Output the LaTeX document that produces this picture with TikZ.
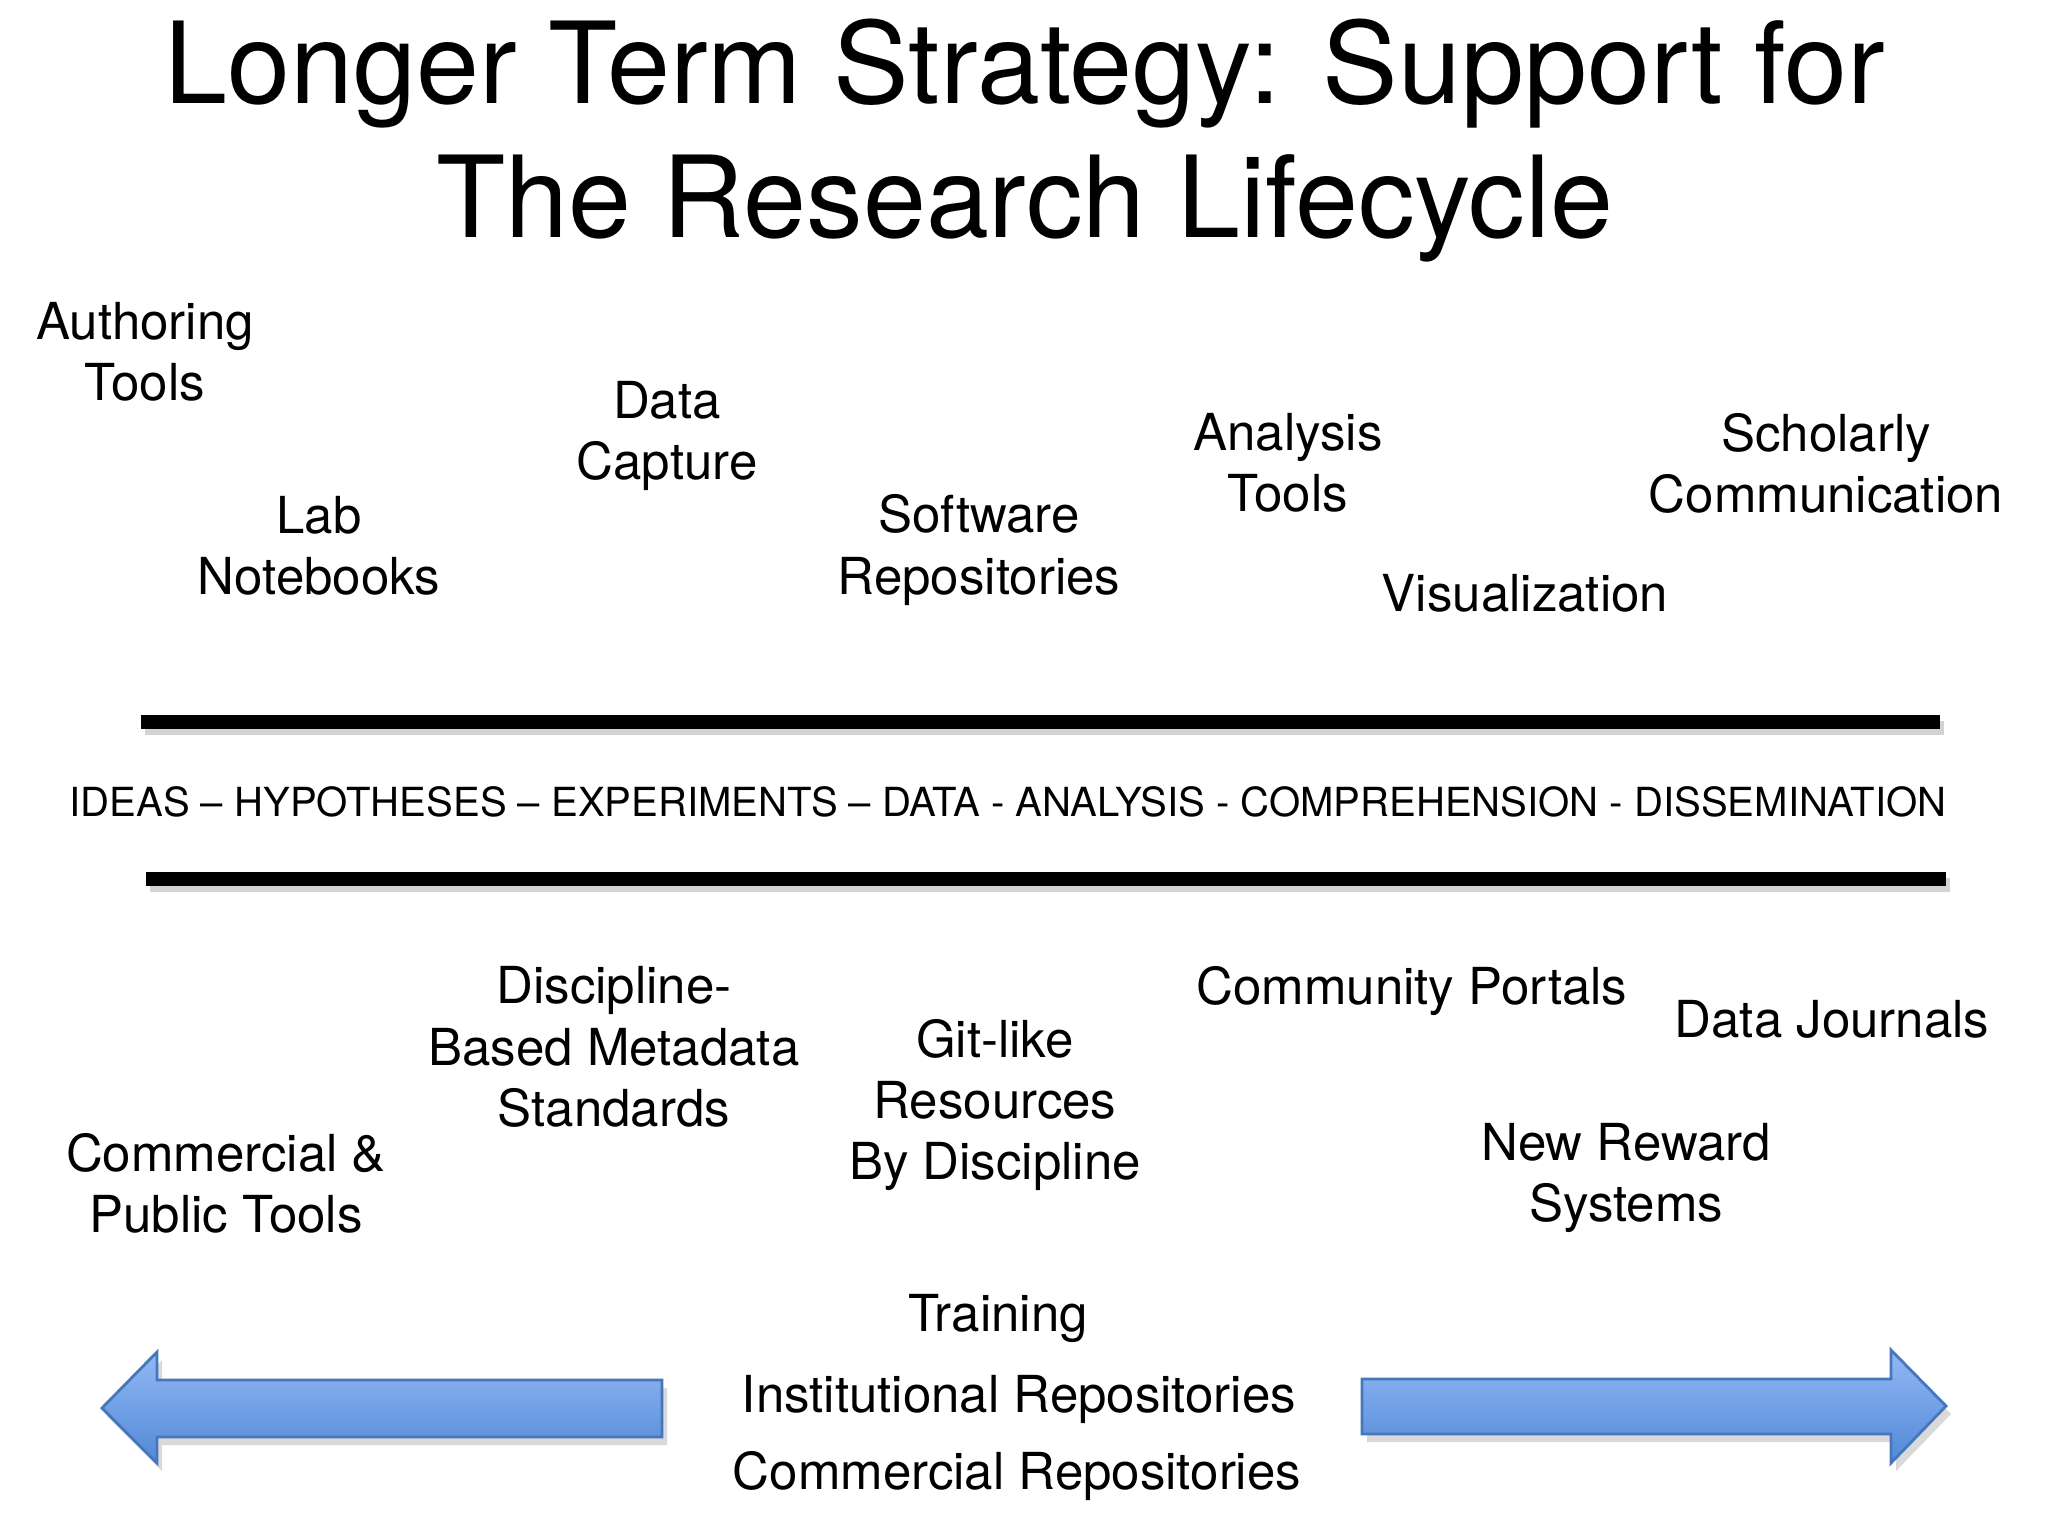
\documentclass[tikz,border=0pt]{standalone}
\usepackage{fontspec}
\setmainfont{TeX Gyre Heros}
\usetikzlibrary{shadows}

\definecolor{arrowtop}{HTML}{93B8F5}
\definecolor{arrowbot}{HTML}{5189D6}
\definecolor{arrowline}{HTML}{4677BD}

\tikzset{
  title/.style={font=\fontsize{32.2}{38.1}\selectfont, align=center},
  tool/.style={font=\fontsize{14.5}{17.4}\selectfont, align=center, inner sep=0pt},
  stage/.style={font=\fontsize{11.4}{13}\selectfont, inner sep=0pt},
  bar/.style={fill=black, drop shadow={shadow xshift=0.4mm, shadow yshift=-0.6mm, opacity=0.35}},
  bigarrow/.style={draw=arrowline, line width=0.8pt, top color=arrowtop, bottom color=arrowbot,
    drop shadow={shadow xshift=0.5mm, shadow yshift=-0.8mm, opacity=0.3}}
}

\begin{document}
\begin{tikzpicture}[x=0.01cm, y=-0.01cm]
  \useasboundingbox (0,0) rectangle (2048,1536);

  % Title
  \node[title] (title) at (1025,141) {Longer Term Strategy: Support for\\The Research Lifecycle};

  % Tools above the lifecycle
  \node[tool] (author)   at (145,352)  {Authoring\\Tools};
  \node[tool] (lab)      at (319,546)  {Lab\\Notebooks};
  \node[tool] (capture)  at (667,436)  {Data\\Capture};
  \node[tool] (software) at (979,550)  {Software\\Repositories};
  \node[tool] (analysis) at (1288,463) {Analysis\\Tools};
  \node[tool] (visual)   at (1525,593) {Visualization};
  \node[tool] (scholar)  at (1826,463) {Scholarly\\Communication};

  % Lifecycle band
  \fill[bar] (141,715) rectangle (1940,729);
  \node[stage] (cycle) at (1008,802)
    {IDEAS -- HYPOTHESES -- EXPERIMENTS -- DATA - ANALYSIS - COMPREHENSION - DISSEMINATION};
  \fill[bar] (146,872) rectangle (1946,886);

  % Support below the lifecycle
  \node[tool] (metadata)  at (614,1047)  {Discipline-\\Based Metadata\\Standards};
  \node[tool] (gitlike)   at (995,1105)  {Git-like\\Resources\\By Discipline};
  \node[tool] (portals)   at (1412,991)  {Community Portals};
  \node[tool] (journals)  at (1832,1019) {Data Journals};
  \node[tool] (commtools) at (226,1183)  {Commercial \&\\Public Tools};
  \node[tool] (reward)    at (1626,1178) {New Reward\\Systems};
  \node[tool] (training)  at (998,1318)  {Training};
  \node[tool] (instrepo)  at (1019,1399) {Institutional Repositories};
  \node[tool] (commrepo)  at (1017,1476) {Commercial Repositories};

  % Arrows
  \path[bigarrow] (102,1408) -- (157,1352) -- (157,1380) -- (662,1380)
    -- (662,1437) -- (157,1437) -- (157,1463) -- cycle;
  \path[bigarrow] (1946,1406) -- (1891,1350) -- (1891,1379) -- (1362,1379)
    -- (1362,1434) -- (1891,1434) -- (1891,1463) -- cycle;
\end{tikzpicture}
\end{document}
